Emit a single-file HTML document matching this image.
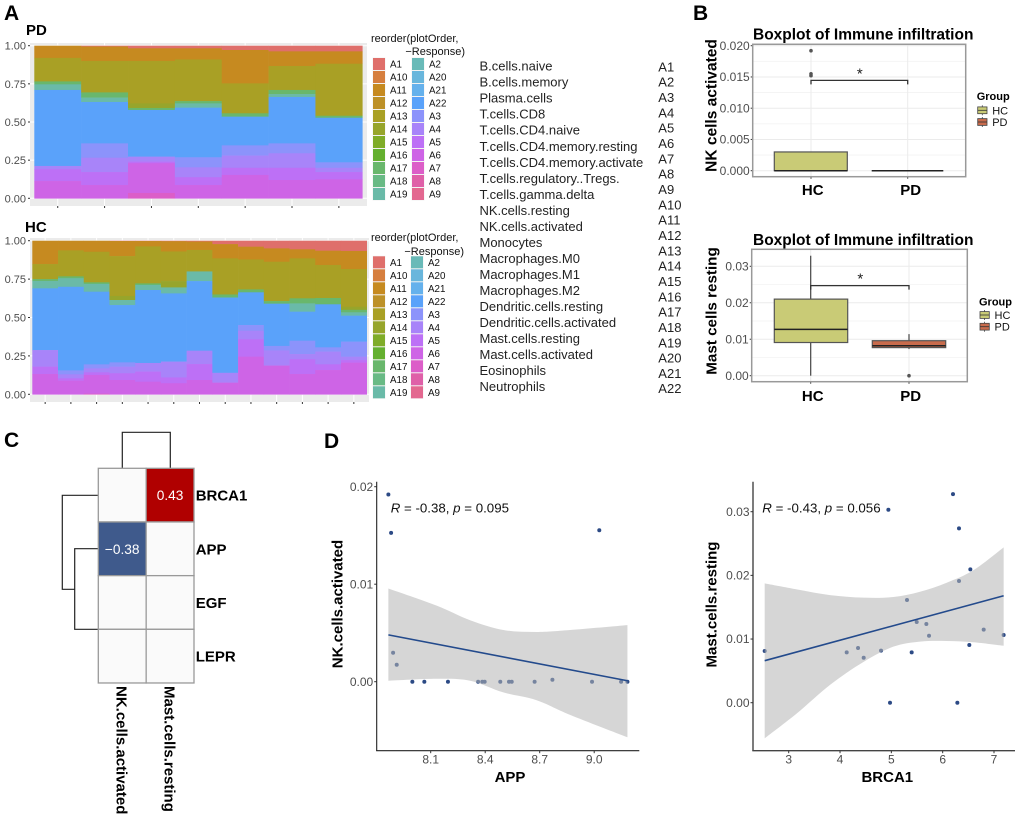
<!DOCTYPE html>
<html lang="en">
<head>
<meta charset="utf-8">
<title>Immune infiltration figure</title>
<style>
html,body{margin:0;padding:0;background:#fff;}
svg{display:block;font-family:"Liberation Sans",Arial,sans-serif;filter:blur(0.35px);}
.pl{font-size:21px;font-weight:bold;fill:#000;}
.name{font-size:13px;fill:#222;}
.tb{font-weight:bold;fill:#000;}
</style>
</head>
<body>
<svg id="fig" xmlns="http://www.w3.org/2000/svg" width="1020" height="822" viewBox="0 0 1020 822">
<rect width="1020" height="822" fill="#fff"/>
<text class="pl" x="4" y="20">A</text>
<text class="pl" x="693" y="20">B</text>
<text class="pl" x="4" y="447">C</text>
<text class="pl" x="324" y="448">D</text>

<text class="tb" x="26" y="35" font-size="15">PD</text>
<text class="tb" x="25" y="232" font-size="15">HC</text>

<text x="371" y="42" font-size="11" fill="#111">reorder(plotOrder,</text>
<text x="465" y="55" font-size="11" fill="#111" text-anchor="end">−Response)</text>
<text x="371" y="241" font-size="11" fill="#111">reorder(plotOrder,</text>
<text x="464" y="255" font-size="11" fill="#111" text-anchor="end">−Response)</text>

<g id="names">
<text class="name" x="479.5" y="70.6">B.cells.naive</text>
<text class="name" x="479.5" y="86.6">B.cells.memory</text>
<text class="name" x="479.5" y="102.7">Plasma.cells</text>
<text class="name" x="479.5" y="118.7">T.cells.CD8</text>
<text class="name" x="479.5" y="134.7">T.cells.CD4.naive</text>
<text class="name" x="479.5" y="150.8">T.cells.CD4.memory.resting</text>
<text class="name" x="479.5" y="166.8">T.cells.CD4.memory.activate</text>
<text class="name" x="479.5" y="182.8">T.cells.regulatory..Tregs.</text>
<text class="name" x="479.5" y="198.8">T.cells.gamma.delta</text>
<text class="name" x="479.5" y="214.9">NK.cells.resting</text>
<text class="name" x="479.5" y="230.9">NK.cells.activated</text>
<text class="name" x="479.5" y="246.9">Monocytes</text>
<text class="name" x="479.5" y="263">Macrophages.M0</text>
<text class="name" x="479.5" y="279">Macrophages.M1</text>
<text class="name" x="479.5" y="295">Macrophages.M2</text>
<text class="name" x="479.5" y="311.1">Dendritic.cells.resting</text>
<text class="name" x="479.5" y="327.1">Dendritic.cells.activated</text>
<text class="name" x="479.5" y="343.1">Mast.cells.resting</text>
<text class="name" x="479.5" y="359.2">Mast.cells.activated</text>
<text class="name" x="479.5" y="375.2">Eosinophils</text>
<text class="name" x="479.5" y="391.2">Neutrophils</text>
</g>
<g id="codes">
<text class="name" x="658.3" y="71.3">A1</text>
<text class="name" x="658.3" y="86.7">A2</text>
<text class="name" x="658.3" y="102">A3</text>
<text class="name" x="658.3" y="117.3">A4</text>
<text class="name" x="658.3" y="132.7">A5</text>
<text class="name" x="658.3" y="148">A6</text>
<text class="name" x="658.3" y="163.3">A7</text>
<text class="name" x="658.3" y="178.7">A8</text>
<text class="name" x="658.3" y="194">A9</text>
<text class="name" x="658.3" y="209.4">A10</text>
<text class="name" x="658.3" y="224.7">A11</text>
<text class="name" x="658.3" y="240">A12</text>
<text class="name" x="658.3" y="255.4">A13</text>
<text class="name" x="658.3" y="270.7">A14</text>
<text class="name" x="658.3" y="286">A15</text>
<text class="name" x="658.3" y="301.4">A16</text>
<text class="name" x="658.3" y="316.7">A17</text>
<text class="name" x="658.3" y="332">A18</text>
<text class="name" x="658.3" y="347.4">A19</text>
<text class="name" x="658.3" y="362.7">A20</text>
<text class="name" x="658.3" y="378.1">A21</text>
<text class="name" x="658.3" y="393">A22</text>
</g>

<!-- Panel C dendrograms -->
<g fill="none" stroke="#222" stroke-width="1.2">
<path d="M122.3 468V432.3H170.3V468"/>
<path d="M98 495.3H62.3V589.3H74.7"/>
<path d="M98 548.7H74.7V629.3H98"/>
</g>

<!-- Titles -->
<text class="tb" x="753" y="39.5" font-size="15.5">Boxplot of Immune infiltration</text>
<text class="tb" x="753" y="245" font-size="15.5">Boxplot of Immune infiltration</text>
<text class="tb" font-size="15.5" text-anchor="middle" transform="translate(716.5,105.5) rotate(-90)">NK cells activated</text>
<text class="tb" font-size="15.2" text-anchor="middle" transform="translate(716.5,311) rotate(-90)">Mast cells resting</text>

<text class="tb" x="976.7" y="100" font-size="11">Group</text>
<text class="tb" x="979" y="305.3" font-size="11">Group</text>

<text class="tb" x="510" y="782" font-size="15" text-anchor="middle">APP</text>
<text class="tb" x="887.3" y="782" font-size="15" text-anchor="middle">BRCA1</text>
<text class="tb" font-size="15" text-anchor="middle" transform="translate(342.5,604) rotate(-90)">NK.cells.activated</text>
<text class="tb" font-size="15" text-anchor="middle" transform="translate(716.5,604.5) rotate(-90)">Mast.cells.resting</text>
<text x="390.7" y="512.7" font-size="13.3" fill="#111"><tspan font-style="italic">R</tspan> = -0.38, <tspan font-style="italic">p</tspan> = 0.095</text>
<text x="762.3" y="512.7" font-size="13.3" fill="#111"><tspan font-style="italic">R</tspan> = -0.43, <tspan font-style="italic">p</tspan> = 0.056</text>
</svg>

<script>
// ---------- Panel A data ----------
const stackTicks = [0, 0.25, 0.5, 0.75, 1];
const stackTickLabels = ['0.00', '0.25', '0.50', '0.75', '1.00'];
const stackSeriesNames = ['A1','A11','A13','A14','A17','A19','A22','A3','A4','A5','A6','A7'];
const pdA1  = [0,.005,.017,.017,.028,.037,.037];
const pdA11 = [.08,.095,.083,.073,.219,.096,.081];
const pdA13 = [.154,.206,.278,.273,.196,.157,.341];
const pdA14 = [0,0,.03,0,0,0,0];
const pdA17 = [.019,.034,.013,.015,.022,.027,.013];
const pdA19 = [.037,.029,0,.028,0,.019,0];
const pdA22 = [.498,.271,.306,.325,.188,.304,.292];
const pdA3  = [0,.094,0,.066,.067,.065,.036];
const pdA4  = [.022,.094,.033,.065,.08,.095,.028];
const pdA5  = [.077,.085,.01,.051,.047,.08,.048];
const pdA6  = [.113,.087,.195,.087,.153,.12,.124];
const pdA7  = [0,0,.035,0,0,0,0];
const hcA1  = [0,0,0,.002,.002,.003,.005,.022,.039,.05,.056,.065,.067];
const hcA11 = [.152,.063,.072,.098,.035,.067,.055,.093,.083,.087,.059,.093,.117];
const hcA13 = [.098,.169,.199,.26,.241,.193,.14,.235,.195,.256,.26,.215,.246];
const hcA14 = [0,0,0,.026,0,.041,0,0,0,0,0,0,.02];
const hcA17 = [.012,.012,.01,0,.01,0,0,.02,.019,.017,.033,.041,.016];
const hcA19 = [.048,.056,.051,.033,.033,.039,.063,0,0,0,.054,0,.022];
const hcA22 = [.402,.544,.473,.373,.475,.444,.453,.49,.213,.275,.189,.28,.169];
const hcA3  = [0,.026,.026,.028,0,0,0,0,.037,.029,.087,.028,.098];
const hcA4  = [.108,.026,.026,.043,.056,.103,.087,.064,.056,.099,.034,.083,.022];
const hcA5  = [.048,.015,.017,.044,.066,.038,.104,0,.113,0,.096,.037,.017];
const hcA6  = [.132,.089,.122,.093,.082,.072,.093,.076,.245,.187,.132,.158,.206];
const hcA7  = [0,0,.004,0,0,0,0,0,0,0,0,0,0];
const legendCol1 = ['A1','A10','A11','A12','A13','A14','A15','A16','A17','A18','A19'];
const legendCol2 = ['A2','A20','A21','A22','A3','A4','A5','A6','A7','A8','A9'];

// ---------- Panel B data ----------
const boxCategories = ['HC', 'PD'];
const nkTicks = [0, .005, .01, .015, .02];
const nkTickLabels = ['0.000','0.005','0.010','0.015','0.020'];
const nkQ1 = [0, 0];
const nkMedian = [0, 0];
const nkQ3 = [.003, 0];
const nkLow = [0, 0];
const nkHigh = [.003, 0];
const nkOutliersHC = [.0192, .0155, .0152];
const nkOutliersPD = [];
const nkBracket = [.01445];
const mastTicks = [0, .01, .02, .03];
const mastTickLabels = ['0.00','0.01','0.02','0.03'];
const mastQ1 = [.0091, .0077];
const mastMedian = [.0127, .0082];
const mastQ3 = [.021, .0096];
const mastLow = [0, .0073];
const mastHigh = [.0329, .0114];
const mastOutliersHC = [];
const mastOutliersPD = [0];
const mastBracket = [.0247];

// ---------- Panel C data ----------
const heatRows = ['BRCA1','APP','EGF','LEPR'];
const heatCols = ['NK.cells.activated','Mast.cells.resting'];
const heatRowBRCA1 = [0, .43];
const heatRowAPP = [-.38, 0];
const heatRowEGF = [0, 0];
const heatRowLEPR = [0, 0];

// ---------- Panel D data ----------
const appX = [7.999,8.065,8.195,8.361,8.384,8.397,8.483,8.531,8.546,8.672,8.77,8.988,9.148,9.183,7.867,7.882,9.028,7.893,7.913];
const nkY  = [0,0,0,0,0,0,0,0,0,0,.0002,0,0,0,.0192,.01526,.01553,.00297,.00174];
const appLineX = [7.867, 9.183];
const appLineY = [.0048, .0001];
const appCiX = [7.867,8.133,8.317,8.5,8.683,8.867,9.183];
const appCiUpper = [.00956,.0078,.0063,.0053,.0051,.0053,.0058];
const appCiLower = [.0001,.0003,.0001,-.0011,-.0019,-.0034,-.0057];
const appTicks = [8.1, 8.4, 8.7, 9.0];
const appTickLabels = ['8.1','8.4','8.7','9.0'];
const nkScatterTicks = [0, .01, .02];
const nkScatterTickLabels = ['0.00','0.01','0.02'];
const brcaX = [2.532,4.13,4.351,4.461,4.799,5.305,5.494,5.682,5.734,5.396,6.539,6.318,6.519,6.799,7.188,4.942,4.974,6.286,6.201,6.318];
const mastY = [.00812,.00791,.00859,.00707,.00817,.01613,.01267,.01236,.01052,.00791,.02094,.01911,.00906,.01147,.01063,.03031,0,0,.03277,.02738];
const brcaLineX = [2.532, 7.188];
const brcaLineY = [.0066, .0168];
const brcaCiX = [2.532,3.156,3.805,4.455,5.039,5.558,6.078,6.597,7.188];
const brcaCiUpper = [.01874,.0178,.0169,.0165,.0166,.01743,.01885,.0208,.0244];
const brcaCiLower = [-.0056,-.0017,.0028,.0064,.0088,.0096,.0097,.0095,.00895];
const brcaTicks = [3,4,5,6,7];
const brcaTickLabels = ['3','4','5','6','7'];
const mastScatterTicks = [0,.01,.02,.03];
const mastScatterTickLabels = ['0.00','0.01','0.02','0.03'];

// ---------- helpers ----------
const NS = 'http://www.w3.org/2000/svg';
const svg = document.getElementById('fig');
function mk(tag, attrs, txt) {
  const e = document.createElementNS(NS, tag);
  for (const k in attrs) e.setAttribute(k, attrs[k]);
  if (txt !== undefined) e.textContent = txt;
  svg.appendChild(e);
  return e;
}
function linear(d0, d1, r0, r1) { return v => r0 + (v - d0) * (r1 - r0) / (d1 - d0); }

const seriesColors = {A1:'#df6f6b',A10:'#d67f3f',A11:'#c68a20',A12:'#bd9128',A13:'#a9a025',A14:'#97a52b',A15:'#7fac28',A16:'#64b02f',A17:'#69b76c',A18:'#69ba85',A19:'#6abaa8',A2:'#69bab8',A20:'#69b6dc',A21:'#65b1ec',A22:'#5aa2fa',A3:'#8c93fb',A4:'#a884f9',A5:'#bd70f6',A6:'#ce64e6',A7:'#dc5ec8',A8:'#df60a8',A9:'#e36890'};

// ---------- stacked panels ----------
function drawStack(prefix, series, box) {
  const n = series[0].length;
  const y = linear(0, 1, box.y0, box.y1);
  const bw = (box.bx1 - box.bx0) / n;
  const xc = i => box.bx0 + bw * (i + 0.5);
  const p = mk('rect', {x: box.px0, y: box.py0, width: box.px1 - box.px0, height: box.py1 - box.py0, fill: '#ebebeb'});
  
  
  stackTicks.forEach((t, i) => {
    const g = mk('line', {x1: box.px0, x2: box.px1, y1: y(t), y2: y(t), stroke: '#fff', 'stroke-width': 1});
    
    
    const m = mk('line', {x1: box.px0 - 2, x2: box.px0, y1: y(t), y2: y(t), stroke: '#333', 'stroke-width': 1});
    
    
    const l = mk('text', {x: box.px0 - 4, y: y(t) + 4, 'text-anchor': 'end', 'font-size': 11, fill: '#4d4d4d'}, stackTickLabels[i]);
    
    
  });
  for (let i = 0; i < n; i++) {
    const g = mk('line', {x1: xc(i), x2: xc(i), y1: box.py0, y2: box.py1, stroke: '#fff', 'stroke-width': 1});
    
    
    const t = mk('line', {x1: xc(i), x2: xc(i), y1: box.py1, y2: box.py1 + 2, stroke: '#333', 'stroke-width': 1});
    
    
    let cum = 1;
    series.forEach((vals, s) => {
      const v = vals[i];
      if (v > 0) {
        const top = y(cum), bot = y(cum - v);
        const r = mk('rect', {x: box.bx0 + bw * i, y: top, width: bw + 0.3, height: bot - top + 0.3, fill: seriesColors[stackSeriesNames[s]]});
        
        
      }
      cum -= v;
    });
  }
}
drawStack('pd', [pdA1,pdA11,pdA13,pdA14,pdA17,pdA19,pdA22,pdA3,pdA4,pdA5,pdA6,pdA7],
  {px0: 30, px1: 367, py0: 43, py1: 206, bx0: 34.3, bx1: 362.3, y0: 198.3, y1: 45.7});
drawStack('hc', [hcA1,hcA11,hcA13,hcA14,hcA17,hcA19,hcA22,hcA3,hcA4,hcA5,hcA6,hcA7],
  {px0: 30, px1: 369, py0: 238, py1: 402, bx0: 32.3, bx1: 366.7, y0: 394.3, y1: 240.7});

function drawLegend(prefix, yTop, x1, x2) {
  [[legendCol1, x1], [legendCol2, x2]].forEach(col => {
    col[0].forEach((name, i) => {
      const cy = yTop + i * 13;
      const bg = mk('rect', {x: col[1] - 0.5, y: cy - 6.5, width: 13, height: 13, fill: '#f2f2f2'});
      
      
      const s = mk('rect', {x: col[1], y: cy - 6, width: 12, height: 12, fill: seriesColors[name]});
      
      
      const t = mk('text', {x: col[1] + 17, y: cy + 3.5, 'font-size': 9.8, fill: '#111'}, name);
      
      
    });
  });
}
drawLegend('pd', 64, 373, 412);
drawLegend('hc', 262.3, 373, 411);

// ---------- box plots ----------
const boxFill = ['#c9cb76', '#c86b4c'];
function drawBox(prefix, b, d) {
  const y = linear(d.t0, d.t1, b.y0, b.y1);
  const bg = mk('rect', {x: b.x0, y: b.top, width: b.x1 - b.x0, height: b.bot - b.top, fill: '#fff'});
  
  
  const step = (d.ticks[1] - d.ticks[0]);
  d.ticks.forEach((t, i) => {
    const g = mk('line', {x1: b.x0, x2: b.x1, y1: y(t), y2: y(t), stroke: '#ebebeb', 'stroke-width': 1});
    
    
    if (i < d.ticks.length - 1) {
      const m = mk('line', {x1: b.x0, x2: b.x1, y1: y(t + step / 2), y2: y(t + step / 2), stroke: '#f3f3f3', 'stroke-width': 0.8});
      
      
    }
    const tk = mk('line', {x1: b.x0 - 2, x2: b.x0, y1: y(t), y2: y(t), stroke: '#333', 'stroke-width': 1});
    
    
    const l = mk('text', {x: b.x0 - 3, y: y(t) + 4.2, 'text-anchor': 'end', 'font-size': 12, fill: '#4d4d4d'}, d.labels[i]);
    
    
  });
  boxCategories.forEach((c, i) => {
    const g = mk('line', {x1: b.cx[i], x2: b.cx[i], y1: b.top, y2: b.bot, stroke: '#ebebeb', 'stroke-width': 1});
    
    
    const tk = mk('line', {x1: b.cx[i], x2: b.cx[i], y1: b.bot, y2: b.bot + 2, stroke: '#333', 'stroke-width': 1});
    
    
    const w = mk('line', {x1: b.cx[i], x2: b.cx[i], y1: y(d.high[i]), y2: y(d.low[i]), stroke: '#444', 'stroke-width': 1.2});
    
    
    const r = mk('rect', {x: b.bx[i][0], y: y(d.q3[i]), width: b.bx[i][1] - b.bx[i][0], height: y(d.q1[i]) - y(d.q3[i]), fill: boxFill[i], stroke: '#555', 'stroke-width': 1.2});
    
    
    const md = mk('line', {x1: b.bx[i][0], x2: b.bx[i][1], y1: y(d.median[i]), y2: y(d.median[i]), stroke: '#222', 'stroke-width': 1.5});
    
    
    d.outliers[i].forEach(v => {
      const o = mk('circle', {cx: b.cx[i], cy: y(v), r: 1.8, fill: '#555'});
      
      
    });
    const lb = mk('text', {x: b.lx[i], y: b.ly, 'text-anchor': 'middle', 'font-size': 15, 'font-weight': 'bold', fill: '#000'}, c);
    
    
  });
  const by = y(d.bracket[0]);
  const br = mk('path', {d: 'M' + b.cx[0] + ' ' + (by + 4) + 'V' + by + 'H' + b.cx[1] + 'V' + (by + 4), fill: 'none', stroke: '#333', 'stroke-width': 1.3});
  
  
  const st = mk('text', {x: (b.cx[0] + b.cx[1]) / 2 + 0.5, y: by - 2, 'text-anchor': 'middle', 'font-size': 15, fill: '#222'}, '*');
  
  
  const fr = mk('rect', {x: b.x0, y: b.top, width: b.x1 - b.x0, height: b.bot - b.top, fill: 'none', stroke: '#999', 'stroke-width': 1.5});
  
  
  boxCategories.forEach((c, i) => {
    const ky = b.leg.y[i];
    const wh = mk('line', {x1: b.leg.x + 4.6, x2: b.leg.x + 4.6, y1: ky - 5, y2: ky + 5, stroke: '#444', 'stroke-width': 0.8});
    
    
    const k = mk('rect', {x: b.leg.x, y: ky - 3.4, width: 9.3, height: 6.8, fill: boxFill[i], stroke: '#444', 'stroke-width': 0.8});
    
    
    const mdk = mk('line', {x1: b.leg.x, x2: b.leg.x + 9.3, y1: ky, y2: ky, stroke: '#333', 'stroke-width': 0.8});
    
    
    const t = mk('text', {x: b.leg.x + 14.5, y: ky + 4, 'font-size': 11, fill: '#111'}, c);
    
    
  });
}
drawBox('nk', {x0: 752.7, x1: 965.7, top: 44.3, bot: 176.7, y0: 170.7, y1: 45.7, cx: [811, 907.7],
    bx: [[774.3, 847.3], [871.7, 943.3]], lx: [812.7, 910.7], ly: 195, leg: {x: 977.7, y: [110.3, 122]}},
  {t0: 0, t1: .02, ticks: nkTicks, labels: nkTickLabels, q1: nkQ1, median: nkMedian, q3: nkQ3, low: nkLow, high: nkHigh,
    outliers: [nkOutliersHC, nkOutliersPD], bracket: nkBracket});
drawBox('mast', {x0: 751.7, x1: 967.3, top: 249.3, bot: 381.7, y0: 375.7, y1: 266.3, cx: [810.7, 909],
    bx: [[774.3, 847.7], [872.3, 945.7]], lx: [812.7, 910.7], ly: 401, leg: {x: 980, y: [315, 326.7]}},
  {t0: 0, t1: .03, ticks: mastTicks, labels: mastTickLabels, q1: mastQ1, median: mastMedian, q3: mastQ3, low: mastLow, high: mastHigh,
    outliers: [mastOutliersHC, mastOutliersPD], bracket: mastBracket});

// ---------- heatmap ----------
const heatValues = [heatRowBRCA1, heatRowAPP, heatRowEGF, heatRowLEPR];
const heatX = v => 98.3 + v * 47.85;
const heatY = v => 468.3 + v * 53.67;
function heatColor(v) { return v === 0 ? '#fafafa' : (v > 0 ? '#b00000' : '#3f5a8c'); }
heatValues.forEach((row, r) => {
  row.forEach((v, c) => {
    const cell = mk('rect', {x: heatX(c), y: heatY(r), width: 47.85, height: 53.67, fill: heatColor(v), stroke: '#999', 'stroke-width': 1.3});
    
    
    if (v !== 0) {
      const label = (v < 0 ? '\u2212' : '') + Math.abs(v).toFixed(2);
      const t = mk('text', {x: heatX(c + 0.5), y: heatY(r + 0.5) + 5, 'text-anchor': 'middle', 'font-size': 13.7, fill: '#fff'}, label);
      
      
    }
  });
  const rl = mk('text', {x: 195.7, y: heatY(r + 0.5) + 5.5, 'font-size': 15, 'font-weight': 'bold', fill: '#000'}, heatRows[r]);
  
  
});
heatCols.forEach((c, i) => {
  const t = mk('text', {'font-size': 15, 'font-weight': 'bold', fill: '#000', transform: 'translate(' + (heatX(i + 0.5) - 5.5) + ',686) rotate(90)'}, c);
  
  
});

// ---------- scatter panels ----------
function smooth(pts) {
  let d = '';
  for (let i = 0; i < pts.length - 1; i++) {
    const p0 = pts[Math.max(0, i - 1)], p1 = pts[i], p2 = pts[i + 1], p3 = pts[Math.min(pts.length - 1, i + 2)];
    d += 'C' + (p1[0] + (p2[0] - p0[0]) / 6) + ' ' + (p1[1] + (p2[1] - p0[1]) / 6) + ' ' +
         (p2[0] - (p3[0] - p1[0]) / 6) + ' ' + (p2[1] - (p3[1] - p1[1]) / 6) + ' ' + p2[0] + ' ' + p2[1];
  }
  return d;
}
function drawScatter(prefix, o) {
  o.xs.forEach((v, i) => {
    const c = mk('circle', {cx: o.x(v), cy: o.y(o.ys[i]), r: 2, fill: '#2c4a85'});
    
    
  });
  const up = o.ciX.map((v, i) => [o.x(v), o.y(o.ciU[i])]);
  const lo = o.ciX.map((v, i) => [o.x(v), o.y(o.ciL[i])]).reverse();
  const band = mk('path', {d: 'M' + up[0][0] + ' ' + up[0][1] + smooth(up) + 'L' + lo[0][0] + ' ' + lo[0][1] + smooth(lo) + 'Z', fill: '#b5b5b5', 'fill-opacity': 0.55});
  
  
  const ln = mk('line', {x1: o.x(o.lx[0]), x2: o.x(o.lx[1]), y1: o.y(o.ly[0]), y2: o.y(o.ly[1]), stroke: '#234a8c', 'stroke-width': 1.6});
  
  
  const yA = mk('line', {x1: o.ax, x2: o.ax, y1: 481.7, y2: 750.7, stroke: o.axis, 'stroke-width': o.aw});
  
  
  const xA = mk('line', {x1: o.ax - o.aw / 2, x2: o.axEnd, y1: 750.7, y2: 750.7, stroke: o.axis, 'stroke-width': o.aw});
  
  
  o.yt.forEach((t, i) => {
    const k = mk('line', {x1: o.ax - 2.5, x2: o.ax, y1: o.y(t), y2: o.y(t), stroke: '#333', 'stroke-width': 1});
    
    
    const l = mk('text', {x: o.ax - 3.5, y: o.y(t) + 4.2, 'text-anchor': 'end', 'font-size': 12, fill: '#4d4d4d'}, o.ytl[i]);
    
    
  });
  o.xt.forEach((t, i) => {
    const k = mk('line', {x1: o.x(t), x2: o.x(t), y1: 750.7, y2: 753.2, stroke: '#333', 'stroke-width': 1});
    
    
    const l = mk('text', {x: o.x(t), y: 763.5, 'text-anchor': 'middle', 'font-size': 12, fill: '#4d4d4d'}, o.xtl[i]);
    
    
  });
}
drawScatter('scatter-nk', {
  xs: appX, ys: nkY, lx: appLineX, ly: appLineY, ciX: appCiX, ciU: appCiUpper, ciL: appCiLower,
  x: linear(8.1, 9.0, 430.7, 594.2), y: linear(0, .02, 681.7, 486.7),
  xt: appTicks, xtl: appTickLabels, yt: nkScatterTicks, ytl: nkScatterTickLabels,
  ax: 376.7, axEnd: 639.3, axis: '#222', aw: 1.1
});
drawScatter('scatter-mast', {
  xs: brcaX, ys: mastY, lx: brcaLineX, ly: brcaLineY, ciX: brcaCiX, ciU: brcaCiUpper, ciL: brcaCiLower,
  x: linear(3, 7, 788.7, 994), y: linear(0, .03, 702.7, 511.7),
  xt: brcaTicks, xtl: brcaTickLabels, yt: mastScatterTicks, ytl: mastScatterTickLabels,
  ax: 753, axEnd: 1015, axis: '#444', aw: 1.4
});
</script>
</body>
</html>
